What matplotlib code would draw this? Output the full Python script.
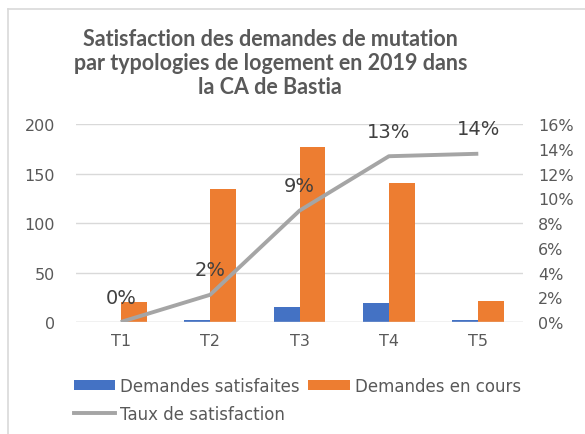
import matplotlib
matplotlib.use("Agg")
import matplotlib.pyplot as plt
from matplotlib.lines import Line2D

plt.rcParams["font.family"] = ["DejaVu Sans"]

typologies = ["T1", "T2", "T3", "T4", "T5"]
satisfaites = [0, 2, 15, 19, 2]
en_cours = [20, 134, 177, 140, 21]
taux = [0.0, 0.022, 0.09, 0.134, 0.136]

blue = "#4472C4"
orange = "#ED7D31"
gray_line = "#A5A5A5"
text_col = "#595959"

fig = plt.figure(figsize=(5.85, 4.35), dpi=100)
ax = fig.add_axes([0.130, 0.2575, 0.764, 0.455])

x = range(len(typologies))
w = 0.29
b1 = ax.bar([i - w / 2 for i in x], satisfaites, width=w, color=blue, label="Demandes satisfaites")
b2 = ax.bar([i + w / 2 for i in x], en_cours, width=w, color=orange, label="Demandes en cours")

ax.set_xlim(-0.5, 4.5)
ax.set_ylim(0, 200)
ax.set_yticks(range(0, 201, 50))
ax.set_xticks(list(x))
ax.set_xticklabels(typologies)
ax.grid(axis="y", color="#D9D9D9", linewidth=1)
ax.set_axisbelow(True)
for s in ax.spines.values():
    s.set_visible(False)
ax.axhline(0, color="#D9D9D9", linewidth=1)
ax.tick_params(axis="both", length=0, labelsize=11.5, labelcolor=text_col)
ax.tick_params(axis="y", pad=15)
ax.tick_params(axis="x", pad=8)

# taux de satisfaction sur l'axe secondaire
ax2 = ax.twinx()
ax2.plot(list(x), taux, color=gray_line, linewidth=2.8, solid_capstyle="butt")
ax2.set_ylim(0, 0.16)
ax2.set_yticks([i / 100 for i in range(0, 17, 2)])
ax2.set_yticklabels([f"{i}%" for i in range(0, 17, 2)])
ax2.tick_params(axis="y", length=0, labelsize=11.5, labelcolor=text_col, pad=11)
for s in ax2.spines.values():
    s.set_visible(False)
for i, t in zip(x, taux):
    ax2.annotate(f"{t:.0%}", (i, t), xytext=(0, 11), textcoords="offset points",
                 ha="center", va="bottom", fontsize=14, color="#404040")

fig.text(0.462, 0.933, "Satisfaction des demandes de mutation\npar typologies de logement en 2019 dans\nla CA de Bastia",
         ha="center", va="top", fontsize=15.5, fontweight="bold", color=text_col,
         linespacing=1.16, family=["Lato", "DejaVu Sans"])

handles = [b1, Line2D([], [], color=gray_line, linewidth=2.8), b2]
labels = ["Demandes satisfaites", "Taux de satisfaction", "Demandes en cours"]
fig.legend(handles, labels, ncol=2, loc="upper left", bbox_to_anchor=(0.1, 0.166),
           frameon=False, fontsize=12, labelcolor=text_col, handlelength=2.5,
           handleheight=0.5, handletextpad=0.3, columnspacing=0.5, labelspacing=0.6)

# cadre du graphique
fig.add_artist(Line2D([8 / 585, 8 / 585], [0, 1 - 10 / 435], color="#D9D9D9", linewidth=1.2))
fig.add_artist(Line2D([8 / 585, 1], [1 - 10 / 435, 1 - 10 / 435], color="#D9D9D9", linewidth=1.2))

fig.savefig("out.png", dpi=100)
